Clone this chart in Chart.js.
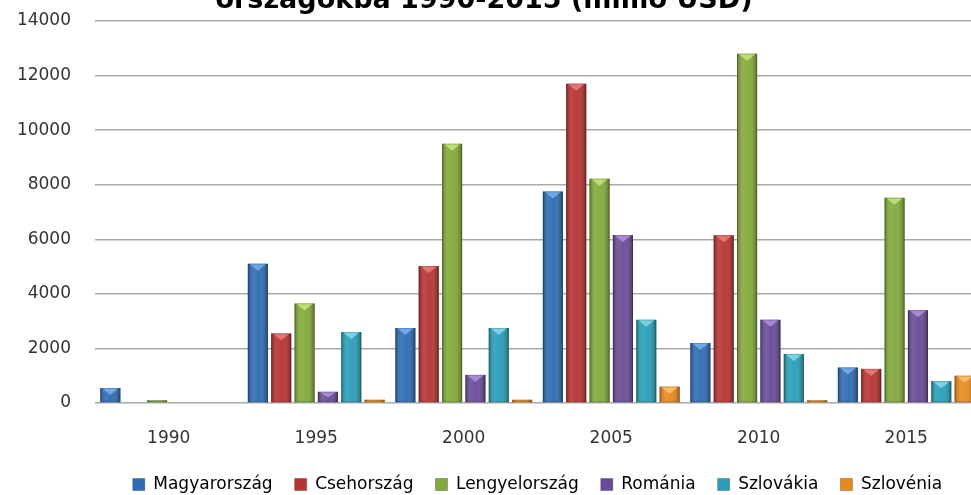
<!DOCTYPE html>
<html>
<head>
<meta charset="utf-8">
<script src="https://cdn.jsdelivr.net/npm/chart.js@4/dist/chart.umd.min.js"></script>
<style>
  html, body { margin: 0; padding: 0; background: #fff; overflow: hidden; }
  #wrap { position: absolute; left: 0; top: 0; width: 980px; height: 503px; }
</style>
</head>
<body>
<div id="wrap"><canvas id="chart"></canvas></div>
<script>
// Beérkező működőtőke-befektetések (millió USD)
const years = ['1990', '1995', '2000', '2005', '2010', '2015'];
const magyarorszag  = [550, 5100, 2750, 7750, 2200, 1300];
const csehorszag    = [0, 2550, 5020, 11700, 6150, 1250];
const lengyelorszag = [100, 3650, 9500, 8220, 12800, 7520];
const romania       = [0, 410, 1030, 6160, 3050, 3400];
const szlovakia     = [0, 2600, 2750, 3050, 1800, 800];
const szlovenia     = [0, 120, 120, 600, 100, 1000];
const seriesNames = ['Magyarország', 'Csehország', 'Lengyelország', 'Románia', 'Szlovákia', 'Szlovénia'];
const yTickValues = [0, 2000, 4000, 6000, 8000, 10000, 12000, 14000];
const titleText = 'országokba 1990-2015 (millió USD)';

// bar colours and the lighter tone used for the bevelled top
const baseColors  = ['#2f6cb3', '#b83333', '#82aa3b', '#6a4b98', '#2a9eb9', '#e8891f'];
const bevelColors = ['#78b0ee', '#ec7d7d', '#c8e67f', '#b093dc', '#86dcef', '#fcc56e'];

const seriesValues = [magyarorszag, csehorszag, lengyelorszag, romania, szlovakia, szlovenia];

// last line of the chart title, sitting at the very top edge of the canvas
const topTitle = {
  id: 'topTitle',
  afterDraw(chart) {
    const ctx = chart.ctx;
    ctx.save();
    ctx.font = 'bold 27px "DejaVu Sans"';
    ctx.fillStyle = '#000';
    ctx.textAlign = 'center';
    ctx.textBaseline = 'alphabetic';
    ctx.fillText(titleText, chart.width / 2 - 6, 8);
    ctx.restore();
  }
};

// cylinder-like shading and a bevelled top on every bar
const barShade = {
  id: 'barShade',
  afterDatasetsDraw(chart) {
    const ctx = chart.ctx;
    chart.data.datasets.forEach((ds, di) => {
      const meta = chart.getDatasetMeta(di);
      if (meta.hidden) return;
      meta.data.forEach(bar => {
        const { x, y, base, width } = bar.getProps(['x', 'y', 'base', 'width'], true);
        const h = base - y;
        if (h < 1) return;
        const l = x - width / 2, r = x + width / 2;
        ctx.save();
        const g = ctx.createLinearGradient(l, 0, r, 0);
        g.addColorStop(0, 'rgba(0,0,0,0.30)');
        g.addColorStop(0.3, 'rgba(255,255,255,0.10)');
        g.addColorStop(0.55, 'rgba(255,255,255,0.04)');
        g.addColorStop(1, 'rgba(0,0,0,0.34)');
        ctx.fillStyle = g;
        ctx.fillRect(l, y, width, h);
        if (h > 3) {
          const t = Math.min(7, h * 0.55);
          ctx.beginPath();
          ctx.moveTo(l + 1.5, y);
          ctx.lineTo(r - 1.5, y);
          ctx.lineTo(x, y + t);
          ctx.closePath();
          ctx.fillStyle = bevelColors[di];
          ctx.globalAlpha = 0.85;
          ctx.fill();
        }
        ctx.globalAlpha = 1;
        ctx.strokeStyle = 'rgba(0,0,0,0.18)';
        ctx.lineWidth = 1;
        ctx.strokeRect(l + 0.5, y + 0.5, width - 1, h - 1);
        ctx.restore();
      });
    });
  }
};

const tickFont = { family: 'DejaVu Sans', size: 17 };

new Chart(document.getElementById('chart'), {
  type: 'bar',
  data: {
    labels: years,
    datasets: seriesNames.map((name, i) => ({
      label: name,
      data: seriesValues[i],
      backgroundColor: baseColors[i],
      borderWidth: 0
    }))
  },
  options: {
    responsive: true,
    maintainAspectRatio: false,
    animation: false,
    layout: { padding: { top: 21, left: 0, right: 0, bottom: 0 } },
    datasets: { bar: { categoryPercentage: 0.95, barPercentage: 0.86 } },
    scales: {
      x: {
        grid: { display: false },
        border: { display: false },
        ticks: { font: tickFont, color: '#333', padding: 17 },
        afterFit(scale) { scale.height = 51; }
      },
      y: {
        min: 0,
        max: 14000,
        afterBuildTicks(scale) { scale.ticks = yTickValues.map(v => ({ value: v })); },
        ticks: { font: tickFont, color: '#333', padding: 0, callback: v => String(v) },
        grid: { color: '#a9a9a9', lineWidth: 1.5, drawTicks: true, tickLength: 24, tickColor: 'rgba(0,0,0,0)' },
        border: { display: false },
        afterFit(scale) { scale.width = 95; }
      }
    },
    plugins: {
      title: { display: false },
      legend: {
        position: 'bottom',
        fullSize: false,
        labels: {
          font: { family: 'DejaVu Sans', size: 17 },
          color: '#222',
          boxWidth: 12,
          boxHeight: 12,
          padding: 22,
          generateLabels(chart) {
            return chart.data.datasets.map((ds, i) => ({
              text: ds.label,
              fillStyle: baseColors[i],
              strokeStyle: 'rgba(0,0,0,0.25)',
              lineWidth: 1,
              hidden: false,
              datasetIndex: i
            }));
          }
        }
      },
      tooltip: { enabled: false }
    }
  },
  plugins: [barShade, topTitle]
});
</script>
</body>
</html>
